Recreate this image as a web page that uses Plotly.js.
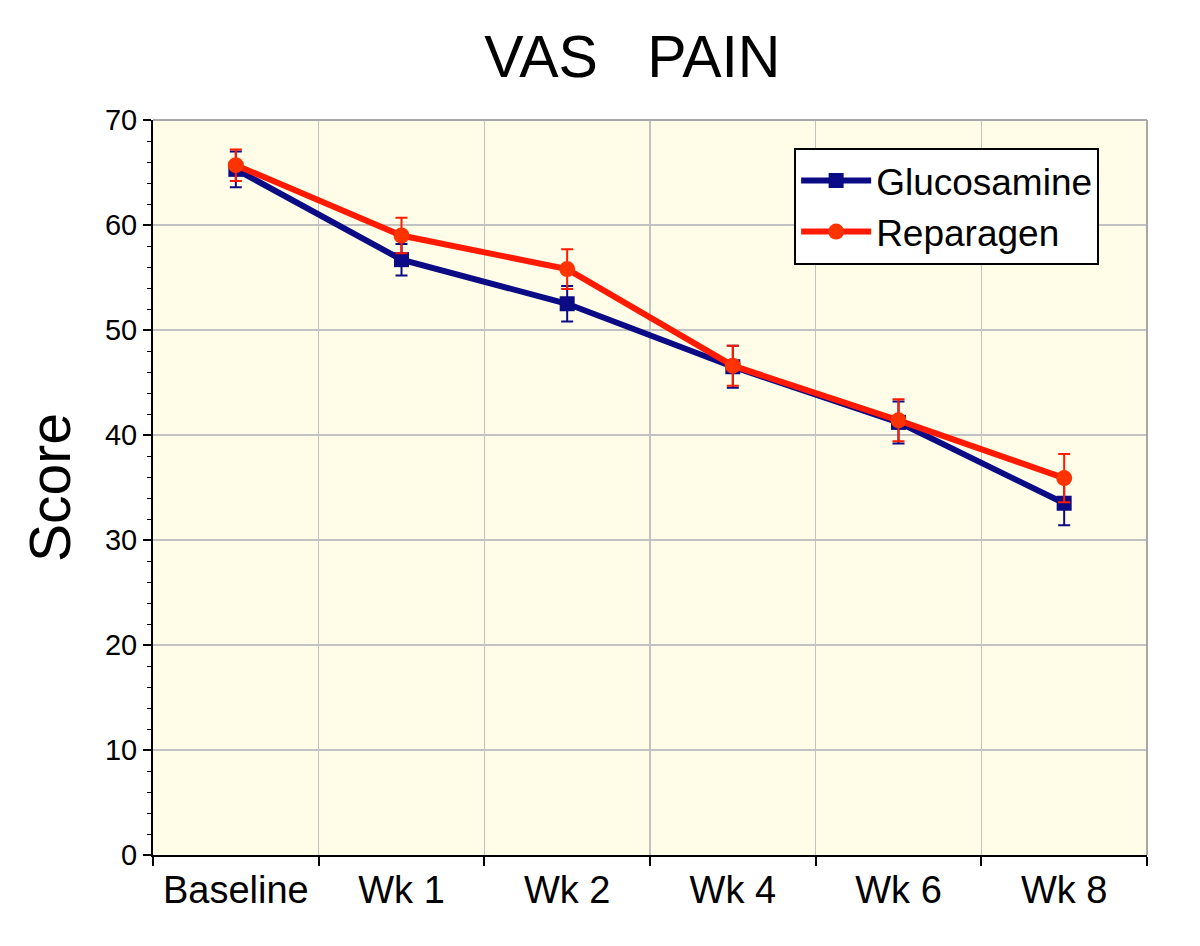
<!DOCTYPE html>
<html>
<head>
<meta charset="utf-8">
<script src="https://cdn.plot.ly/plotly-3.0.1.min.js"></script>
<style>
  html, body { margin: 0; padding: 0; background: #ffffff; }
  #chart { width: 1200px; height: 946px; }
</style>
</head>
<body>
<div id="chart"></div>
<script>
// values
const visits = ['Baseline', 'Wk 1', 'Wk 2', 'Wk 4', 'Wk 6', 'Wk 8'];
const glucosamine    = [65.3, 56.7, 52.5, 46.5, 41.2, 33.5];
const glucosamineErr = [1.7, 1.5, 1.7, 2.0, 2.0, 2.1];
const reparagen      = [65.7, 59.0, 55.8, 46.6, 41.4, 35.9];
const reparagenErr   = [1.5, 1.7, 1.9, 1.9, 2.0, 2.3];

const font = 'Liberation Sans, Arial, Helvetica, sans-serif';

let gluc = {
    x: visits, y: glucosamine, name: 'Glucosamine',
    type: 'scatter', mode: 'lines+markers',
    line: { color: '#0b0b85', width: 6 },
    marker: { symbol: 'square', size: 15, color: '#0b0b85' },
    error_y: { type: 'data', array: glucosamineErr, color: '#0b0b85', thickness: 2, width: 6 }
};
let repa = {
    x: visits, y: reparagen, name: 'Reparagen',
    type: 'scatter', mode: 'lines+markers',
    line: { color: '#ff1a00', width: 6 },
    marker: { symbol: 'circle', size: 16, color: '#ff3300' },
    error_y: { type: 'data', array: reparagenErr, color: '#ff1a00', thickness: 2, width: 6 }
};

let layout = {
    width: 1200,
    height: 946,
    margin: { l: 153, r: 53, t: 120, b: 91, pad: 0 },
    paper_bgcolor: '#ffffff',
    plot_bgcolor: '#fffde8',
    font: { family: font, color: '#000000' },
    title: {
        text: 'VAS\u00a0\u00a0\u00a0PAIN',
        font: { size: 59, family: font, color: '#000000' },
        x: 0.527, xref: 'container', xanchor: 'center',
        y: 0.94, yref: 'container', yanchor: 'middle'
    },
    xaxis: {
        type: 'category',
        range: [-0.5, 5.5],
        tickson: 'boundaries',
        ticks: 'outside', ticklen: 9, tickwidth: 2, tickcolor: '#000000',
        showline: true, linecolor: '#000000', linewidth: 2,
        showgrid: true, gridcolor: '#c2c2c2', gridwidth: 1.5,
        tickfont: { size: 38, family: font },
        zeroline: false
    },
    yaxis: {
        range: [0, 70],
        dtick: 10,
        ticks: 'outside', ticklen: 8, tickwidth: 2, tickcolor: '#000000',
        minor: { dtick: 2, ticks: 'outside', ticklen: 4, tickwidth: 1, tickcolor: '#000000', showgrid: false },
        showline: true, linecolor: '#000000', linewidth: 2,
        showgrid: true, gridcolor: '#c2c2c2', gridwidth: 1.5,
        tickfont: { size: 29, family: font },
        zeroline: false,
        title: { text: 'Score', font: { size: 57, family: font }, standoff: 16 }
    },
    showlegend: true,
    legend: {
        x: 0.645, y: 0.962, xanchor: 'left', yanchor: 'top',
        bgcolor: '#ffffff', bordercolor: '#000000', borderwidth: 2,
        font: { size: 37, family: font },
        itemwidth: 70,
        tracegroupgap: 0
    },
    shapes: [
        // grey frame on top and right side
        { type: 'line', xref: 'paper', yref: 'paper', x0: 0, x1: 1, y0: 1, y1: 1, line: { color: '#a8a8a8', width: 2 } },
        { type: 'line', xref: 'paper', yref: 'paper', x0: 1, x1: 1, y0: 0, y1: 1, line: { color: '#a8a8a8', width: 2 } }
    ]
};

Plotly.newPlot(document.querySelector('#chart'), [gluc, repa], layout, { displayModeBar: false, staticPlot: true });
</script>
</body>
</html>
